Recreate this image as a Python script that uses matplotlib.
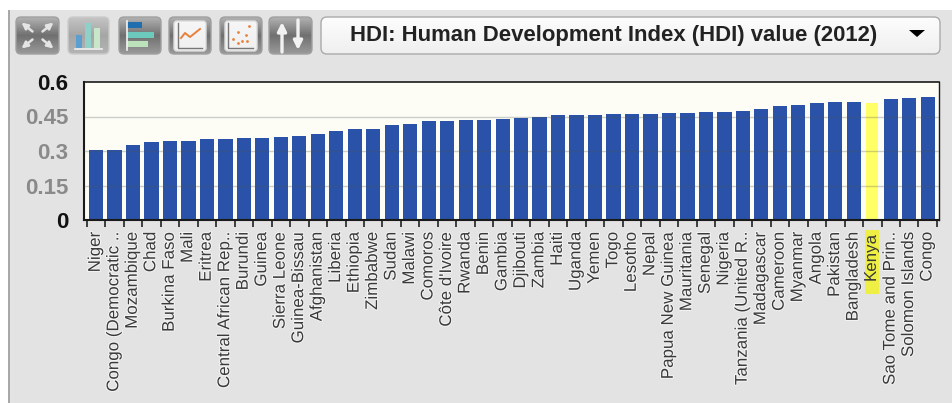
import matplotlib
matplotlib.use('Agg')
import matplotlib.pyplot as plt
import matplotlib.patheffects as pe
from matplotlib.patches import FancyBboxPatch, Rectangle, Polygon
import numpy as np

plt.rcParams['font.family'] = ['Liberation Sans', 'DejaVu Sans']

# Data
countries = ["Niger", "Congo (Democratic ..", "Mozambique", "Chad", "Burkina Faso",
             "Mali", "Eritrea", "Central African Rep..", "Burundi", "Guinea",
             "Sierra Leone", "Guinea-Bissau", "Afghanistan", "Liberia", "Ethiopia",
             "Zimbabwe", "Sudan", "Malawi", "Comoros", "Côte d'Ivoire", "Rwanda",
             "Benin", "Gambia", "Djibouti", "Zambia", "Haiti", "Uganda", "Yemen",
             "Togo", "Lesotho", "Nepal", "Papua New Guinea", "Mauritania", "Senegal",
             "Nigeria", "Tanzania (United R..", "Madagascar", "Cameroon", "Myanmar",
             "Angola", "Pakistan", "Bangladesh", "Kenya", "Sao Tome and Prin..",
             "Solomon Islands", "Congo"]
hdi = [0.304, 0.304, 0.327, 0.340, 0.343, 0.344, 0.351, 0.352, 0.355, 0.355,
       0.359, 0.364, 0.374, 0.388, 0.396, 0.397, 0.414, 0.418, 0.429, 0.432,
       0.434, 0.436, 0.439, 0.445, 0.448, 0.456, 0.456, 0.458, 0.459, 0.461,
       0.463, 0.466, 0.467, 0.470, 0.471, 0.476, 0.483, 0.495, 0.498, 0.508,
       0.515, 0.515, 0.510, 0.525, 0.530, 0.534]
highlight = "Kenya"
y_ticks = [0, 0.15, 0.3, 0.45, 0.6]
y_tick_labels = ["0", "0.15", "0.3", "0.45", "0.6"]
title = "HDI: Human Development Index (HDI) value (2012)"

W, H = 953, 403
fig = plt.figure(figsize=(W / 100, H / 100), dpi=100, facecolor='white')


# Window chrome, in pixel coordinates
###############################################################################
bg = fig.add_axes([0, 0, 1, 1], zorder=0)
bg.axis('off')
bg.add_patch(Rectangle((8, 10), W - 8, H - 10, fc='#e3e3e3', ec='none'))
bg.add_patch(Rectangle((8, 10), 2, H - 10, fc='#a8a8a8', ec='none'))


def gradient_box(x0, x1, y0, y1, stops, edge, rad=5, z=2):
    box = FancyBboxPatch((x0, y0), x1 - x0, y1 - y0,
                         boxstyle='round,pad=0,rounding_size=%d' % rad,
                         fc='none', ec=edge, lw=1, zorder=z + 1)
    bg.add_patch(box)
    pos = np.linspace(0, 1, len(stops))
    rgb = np.array([matplotlib.colors.to_rgb(c) for c in stops])
    t = np.linspace(0, 1, 60)
    img = np.stack([np.interp(t, pos, rgb[:, k]) for k in range(3)], axis=1)[:, None, :]
    im = bg.imshow(img, extent=(x0, x1, y1, y0), aspect='auto', zorder=z)
    im.set_clip_path(box)


buttons = [(16, 59), (68, 109), (119, 161), (169, 211), (220, 262), (269, 312)]
for i, (x0, x1) in enumerate(buttons):
    if i == 1:
        gradient_box(x0, x1, 17, 54, ['#c4c4c4', '#a6a6a6', '#b4b4b4'], '#cbcbcb')
    else:
        gradient_box(x0, x1, 17, 54, ['#b2b2b2', '#707070', '#9a9a9a'], '#a0a0a0')
    if i == 3 or i == 4:
        gradient_box(x0 + 5, x1 - 5, 21, 51, ['#f6f6f6', '#f0f0f0'], '#dddddd', rad=3, z=4)

# Expand arrows
for dx, dy in [(-1, -1), (1, -1), (-1, 1), (1, 1)]:
    bg.annotate('', xy=(37.5 + dx * 16, 35.5 + dy * 13), xytext=(37.5 + dx * 5, 35.5 + dy * 4),
                arrowprops=dict(arrowstyle='-|>', color='#e4e4e4', lw=1.8, mutation_scale=9,
                                shrinkA=0, shrinkB=0),
                zorder=6)
# Column icon
for x, y, c in [(79, 35, '#5b9fd0'), (88, 23, '#8fd0c8'), (97, 28, '#c8e6c8')]:
    bg.add_patch(Rectangle((x - 2.5, y), 5.5, 48 - y, fc=c, ec='none', zorder=6))
bg.plot([75, 102], [48.5, 48.5], color='#f0f0f0', lw=1.2, zorder=6)
# Bar icon
for y, x, c in [(25, 142, '#1f6fb0'), (34.5, 154, '#6ccabc'), (44, 148, '#bce2bc')]:
    bg.add_patch(Rectangle((127, y - 3), x - 127, 6, fc=c, ec='none', zorder=6))
bg.plot([127, 127], [21, 50], color='#f4f4f4', lw=1.2, zorder=6)
# Line icon
bg.plot([178, 178, 202], [23, 48, 48], color='#777777', lw=1, zorder=6)
bg.plot([181, 185, 190, 200], [38, 33, 37, 29], color='#e8803c', lw=1.4, zorder=6)
# Scatter icon
bg.plot([228, 228, 253], [23, 48, 48], color='#777777', lw=1, zorder=6)
bg.scatter([249, 238, 246, 233, 238, 242, 247], [26, 32, 35, 39, 43, 41, 41],
           s=4, color='#e8803c', lw=0, zorder=6)
# Sort arrows
bg.annotate('', xy=(282, 22), xytext=(282, 52),
            arrowprops=dict(arrowstyle='-|>', color='#f2f2f2', lw=2.4, mutation_scale=13,
                            shrinkA=0, shrinkB=0), zorder=6)
bg.annotate('', xy=(298, 50), xytext=(298, 20),
            arrowprops=dict(arrowstyle='-|>', color='#f2f2f2', lw=2.4, mutation_scale=13,
                            shrinkA=0, shrinkB=0), zorder=6)

# Dropdown
gradient_box(321, 940, 17, 54, ['#fdfdfd', '#efefef'], '#aaaaaa', rad=6)
bg.text(613.5, 35.5, title, ha='center', va='center', fontsize=15.9, fontweight='bold',
        color='#222222', zorder=5)
bg.add_patch(Polygon([(909, 30), (925, 30), (917, 37)], fc='black', ec='none', zorder=5))

bg.set_xlim(0, W)
bg.set_ylim(H, 0)


# Plot bars
###############################################################################
ax = fig.add_axes([84 / W, 1 - 220 / H, (939 - 84) / W, (220 - 82) / H], zorder=1)
ax.set_facecolor('#fdfdf6')

x = np.arange(len(countries))
colors = ['#ffff66' if c == highlight else '#2a52a8' for c in countries]
widths = [0.63 if c == highlight else 0.77 for c in countries]
ax.bar(x, hdi, width=widths, color=colors, zorder=2)

ax.set_xlim(-0.65, len(countries) - 0.39)
ax.set_ylim(0, 0.6)

for v in y_ticks[1:-1]:
    ax.axhline(v, color='#555555', alpha=0.28, lw=1, zorder=3)

ax.set_yticks(y_ticks)
ax.set_yticklabels(y_tick_labels, fontsize=16, fontweight='bold')
ax.tick_params(axis='y', length=0, pad=11.5)
for lbl, v in zip(ax.get_yticklabels(), y_ticks):
    lbl.set_color('#111111' if v in (0, 0.6) else '#8a8a8a')

# Ticks sit between the bars, labels stay centred on them
ax.set_xticks(np.arange(-0.5, len(countries), 1))
ax.set_xticklabels([])
ax.tick_params(axis='x', length=5, width=1.1, color='#111111')
for i, name in enumerate(countries):
    t = ax.annotate(name, xy=(i, 0), xycoords=('data', 'axes fraction'),
                    xytext=(-0.5, -8.5), textcoords='offset points',
                    rotation=90, ha='center', va='top', fontsize=12.2, color='#3a3a3a',
                    zorder=6)
    if name != highlight:
        t.set_path_effects([pe.withStroke(linewidth=1.5, foreground='#f4f4f4')])

# Highlight strip under the selected country's label, longer than the word
k = countries.index(highlight)
trans = ax.get_xaxis_transform()
ax.add_patch(Rectangle((k - 0.37, -74 / 138), 0.74, 64 / 138, transform=trans,
                       fc='#eeee44', ec='none', clip_on=False, zorder=5))

for side in ax.spines:
    ax.spines[side].set_color('#1a1a1a')
ax.spines['left'].set_linewidth(1.5)
ax.spines['bottom'].set_linewidth(1.5)
ax.spines['top'].set_linewidth(1.2)
ax.spines['right'].set_linewidth(1.0)

fig.savefig('out.png', dpi=100)
